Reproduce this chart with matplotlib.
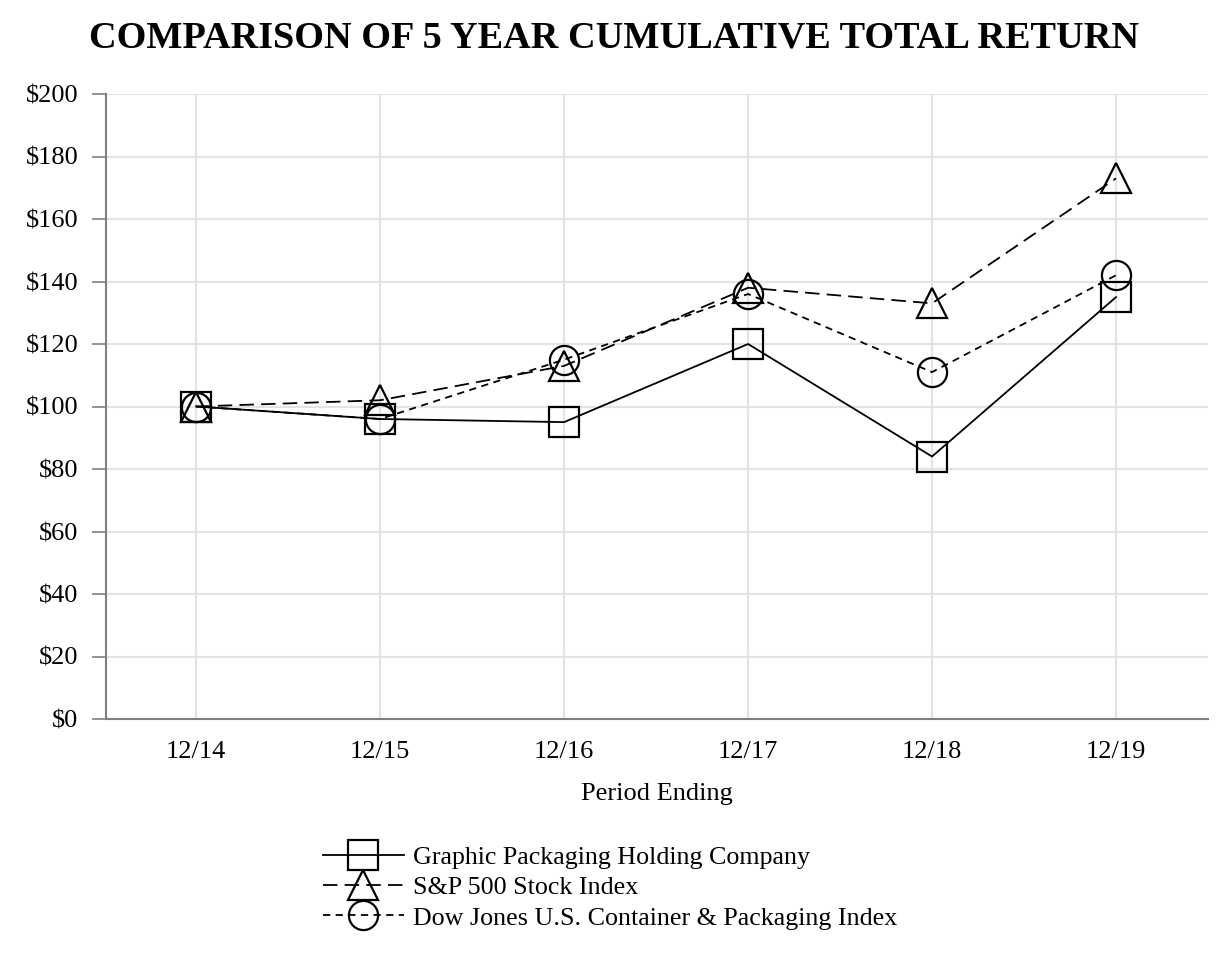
import numpy as np
import matplotlib.pyplot as plt

plt.rcParams['font.family'] = ['Liberation Serif', 'DejaVu Serif']

periods = ['12/14', '12/15', '12/16', '12/17', '12/18', '12/19']
gpk = [100, 96, 95, 120, 84, 135]
sp500 = [100, 102, 113, 138, 133, 173]
dowjones = [100, 96, 115, 136, 111, 142]

names = ['Graphic Packaging Holding Company',
         'S&P 500 Stock Index',
         'Dow Jones U.S. Container & Packaging Index']

fig = plt.figure(figsize=(12.28, 9.6), dpi=100)
ax = fig.add_axes([106 / 1228, 1 - 719 / 960, (1208 - 106) / 1228, (719 - 94) / 960])

x = np.arange(len(periods))
common = dict(color='black', linewidth=1.3, markersize=21, markerfacecolor='none',
              markeredgecolor='black', markeredgewidth=1.6)
ax.plot(x, gpk, linestyle='-', marker='s', label=names[0], **common)
ax.plot(x, sp500, linestyle=(0, (8, 4)), marker='^', label=names[1], **common)
ax.plot(x, dowjones, linestyle=(0, (4, 3)), marker='o', label=names[2], **common)

ax.set_xlim(-0.49, 5.5)
ax.set_ylim(0, 200)
ax.set_yticks(np.arange(0, 201, 20))
ax.set_yticklabels(['$%d' % v for v in range(0, 201, 20)], fontsize=19)
ax.set_xticks(x)
ax.set_xticklabels(periods, fontsize=19)
ax.tick_params(axis='x', length=0, pad=16)
ax.tick_params(axis='y', length=10, width=1.2, color='#808080', pad=10)
ax.grid(True, color='#e3e3e3', linewidth=1.5)
ax.set_axisbelow(True)
for s in ['top', 'right']:
    ax.spines[s].set_visible(False)
for s in ['left', 'bottom']:
    ax.spines[s].set_color('#808080')
    ax.spines[s].set_linewidth(1.5)

ax.set_xlabel('Period Ending', fontsize=19, labelpad=14)

fig.text(0.5, 1 - 38 / 960, 'COMPARISON OF 5 YEAR CUMULATIVE TOTAL RETURN',
         ha='center', va='center', fontsize=27.5, fontweight='bold')

handles, labels = ax.get_legend_handles_labels()
leg = fig.legend(handles, labels, loc='upper left', bbox_to_anchor=(310 / 1228, 1 - 833 / 960),
                 frameon=False, fontsize=18.7, handlelength=3.1, handletextpad=0.38,
                 labelspacing=0.27, borderpad=0, markerscale=1.0)

fig.savefig('out.png', dpi=100)
